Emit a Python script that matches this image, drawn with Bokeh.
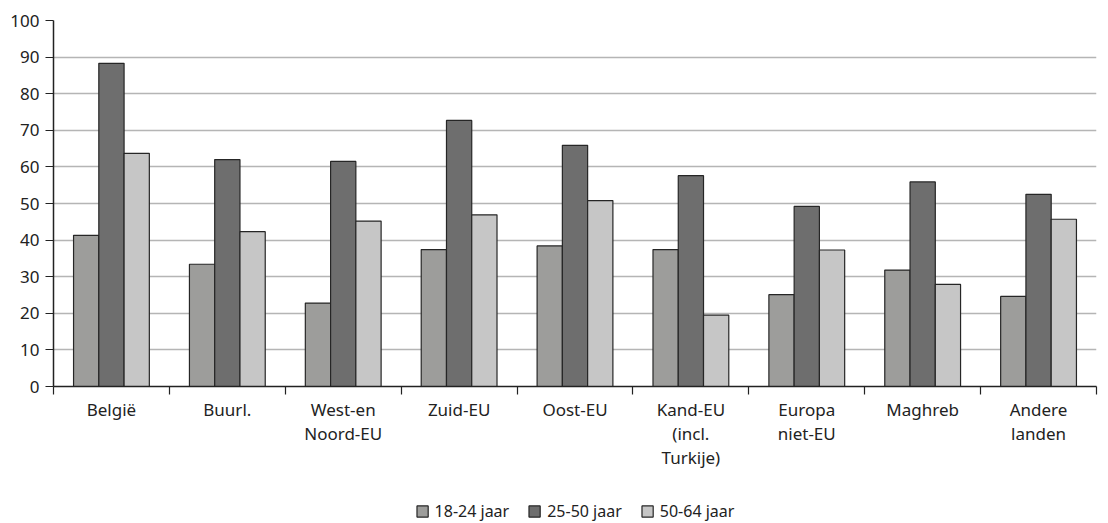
from bokeh.plotting import figure
from bokeh.layouts import column
from bokeh.models import ColumnDataSource, FixedTicker, Grid, Legend, LegendItem, Range1d
from bokeh.transform import dodge
from bokeh.embed import file_html
from bokeh.resources import INLINE

categories = ["België", "Buurl.", "West-en\nNoord-EU", "Zuid-EU", "Oost-EU",
              "Kand-EU\n(incl.\nTurkije)", "Europa\nniet-EU", "Maghreb", "Andere\nlanden"]
series_names = ["18-24 jaar", "25-50 jaar", "50-64 jaar"]
v_18_24 = [41.3, 33.4, 22.8, 37.4, 38.4, 37.4, 25.1, 31.8, 24.6]
v_25_50 = [88.3, 62.0, 61.5, 72.7, 65.9, 57.6, 49.2, 55.9, 52.5]
v_50_64 = [63.7, 42.3, 45.2, 46.9, 50.8, 19.5, 37.3, 27.9, 45.7]
y_ticks = [0, 10, 20, 30, 40, 50, 60, 70, 80, 90, 100]

colors = ["#9d9d9b", "#6e6e6e", "#c6c6c6"]
FONT = "Noto Sans"
TXT = "#222222"

centers = [i + 0.5 for i in range(len(categories))]
bounds = list(range(len(categories) + 1))
src = ColumnDataSource(dict(x=centers, a=v_18_24, b=v_25_50, c=v_50_64))

p = figure(width=1100, height=498, output_backend="svg", toolbar_location=None,
           x_range=Range1d(0, len(categories)), y_range=Range1d(0, 100),
           min_border_left=53, min_border_top=20, min_border_right=4, min_border_bottom=112)
p.outline_line_color = None
p.xgrid.visible = False
p.ygrid.visible = False

g1 = Grid(dimension=1, ticker=FixedTicker(ticks=y_ticks[1:-1]),
          grid_line_color="#b5b5b5", grid_line_width=1.5)
g2 = Grid(dimension=1, ticker=FixedTicker(ticks=[y_ticks[-1]]),
          grid_line_color="#6a6a6a", grid_line_width=1.5)
p.add_layout(g1)
p.add_layout(g2)

bw = 0.218
offs = [-bw, 0.0, bw]
for col, off, c in zip(["a", "b", "c"], offs, colors):
    p.vbar(x=dodge("x", off, range=p.x_range), top=col, bottom=0, width=bw, source=src,
           fill_color=c, line_color="#262626", line_width=1.2)

# axes
p.yaxis.ticker = FixedTicker(ticks=y_ticks)
p.yaxis.major_tick_in = 0
p.yaxis.major_tick_out = 8
p.yaxis.minor_tick_line_color = None
p.yaxis.axis_line_color = "#222222"
p.yaxis.axis_line_width = 1.5
p.yaxis.major_tick_line_color = "#222222"
p.yaxis.major_tick_line_width = 1.2
p.yaxis.major_label_text_font = FONT
p.yaxis.major_label_text_font_size = "17px"
p.yaxis.major_label_text_color = TXT
p.yaxis.major_label_standoff = 6

p.xaxis.ticker = FixedTicker(ticks=centers, minor_ticks=bounds)
p.xaxis.major_tick_line_color = None
p.xaxis.minor_tick_in = 0
p.xaxis.minor_tick_out = 8
p.xaxis.minor_tick_line_color = "#222222"
p.xaxis.minor_tick_line_width = 1.2
p.xaxis.axis_line_color = "#222222"
p.xaxis.axis_line_width = 1.5
p.xaxis.major_label_overrides = {c: lab for c, lab in zip(centers, categories)}
p.xaxis.major_label_text_font = FONT
p.xaxis.major_label_text_font_size = "17px"
p.xaxis.major_label_text_color = TXT
p.xaxis.major_label_text_line_height = 1.06
p.xaxis.major_label_standoff = 3

# legend strip (separate small figure; its bars fall far outside its y-range)
pl = figure(width=1100, height=25, output_backend="svg", toolbar_location=None,
            x_range=p.x_range, y_range=Range1d(1000, 1010),
            x_axis_location=None, y_axis_location=None,
            min_border_left=0, min_border_right=0, min_border_top=0, min_border_bottom=0)
pl.outline_line_color = None
pl.grid.visible = False
lrs = []
for col, off, c in zip(["a", "b", "c"], offs, colors):
    r = pl.vbar(x=dodge("x", off, range=pl.x_range), top=col, bottom=0, width=bw, source=src,
                fill_color=c, line_color="#262626", line_width=1.2)
    lrs.append(r)

legend = Legend(items=[LegendItem(label=n, renderers=[r]) for n, r in zip(series_names, lrs)],
                orientation="horizontal", location="center",
                border_line_color=None, background_fill_alpha=0,
                label_text_font=FONT, label_text_font_size="16px", label_text_color=TXT,
                glyph_width=14, glyph_height=14, spacing=18, label_standoff=6, padding=0, margin=0)
pl.add_layout(legend, "center")

layout = column(p, pl, spacing=0)
open("out.html", "w").write(file_html(layout, INLINE))
